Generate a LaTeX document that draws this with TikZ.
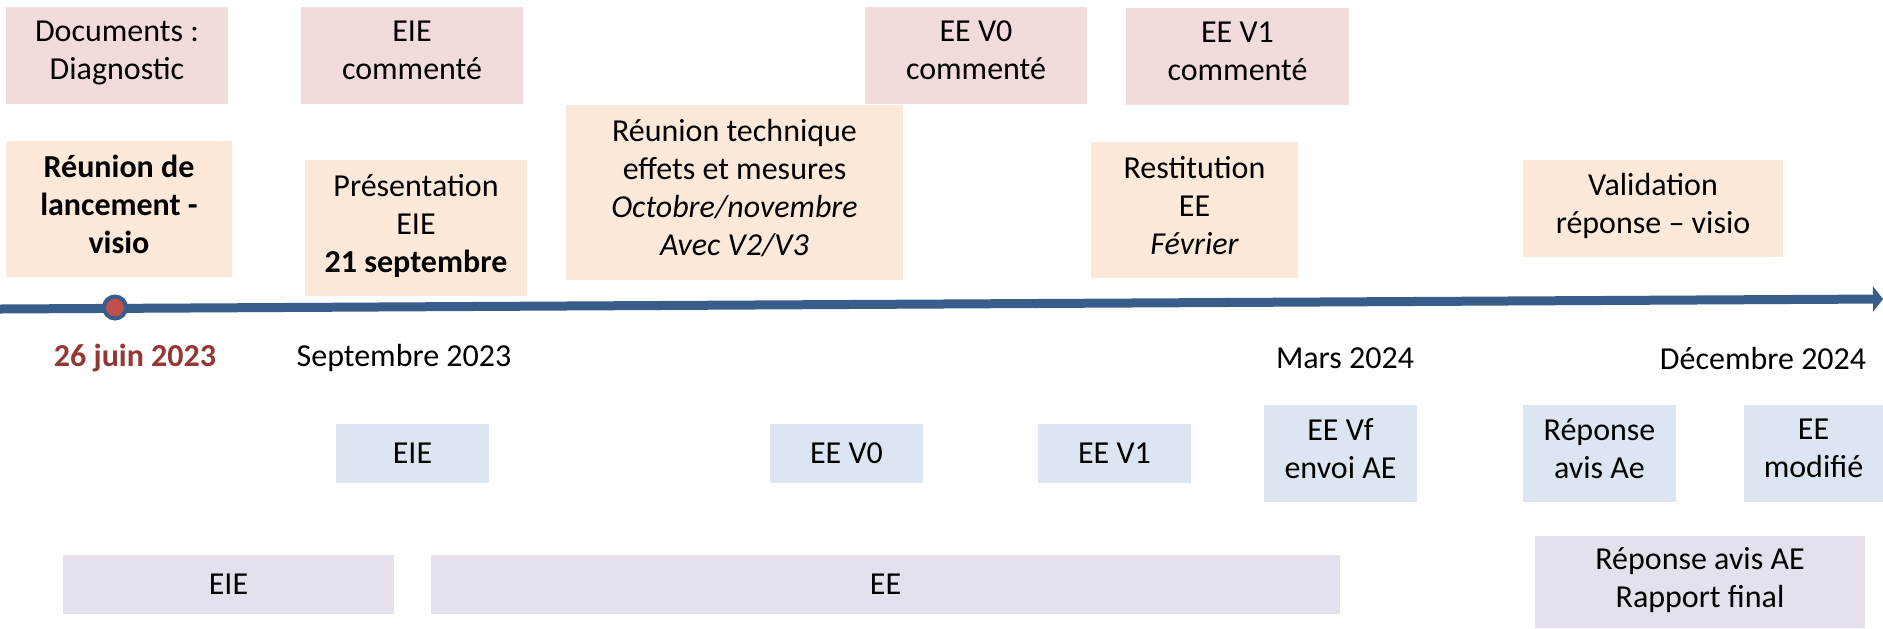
\documentclass[tikz,border=0pt]{standalone}
\usepackage{fontspec}
\setmainfont{Carlito}
\usetikzlibrary{arrows.meta}
\definecolor{pinkfill}{HTML}{F2DCDB}
\definecolor{peachfill}{HTML}{FDE9D9}
\definecolor{bluefill}{HTML}{DCE6F2}
\definecolor{lavfill}{HTML}{E5E0EC}
\definecolor{lineblue}{HTML}{385D8A}
\definecolor{dotred}{HTML}{C0504D}
\definecolor{datered}{HTML}{953735}
\newcommand\boxtop{\rule{0pt}{15pt}}
\newcommand\boxbot{\rule[-5pt]{0pt}{5pt}}
\tikzset{
	box/.style={inner sep=0pt, align=center, font=\fontsize{16}{19}\selectfont,
		execute at begin node=\boxtop, execute at end node=\boxbot},
	pinkbox/.style={box, fill=pinkfill, minimum height=48.5pt},
	peachbox/.style={box, fill=peachfill},
	bluebox/.style={box, fill=bluefill, minimum width=76.5pt},
	lavbox/.style={box, fill=lavfill, minimum height=29.5pt},
	datelabel/.style={inner sep=0pt, font=\fontsize{16}{19}\selectfont},
	timeline/.style={line width=4.5pt, lineblue, -{Triangle[length=5pt, width=12.5pt]}},
}
\begin{document}
\begin{tikzpicture}[x=0.5pt, y=-0.5pt]
	\useasboundingbox (0,0) rectangle (1883,628);
	% documents
	\node[pinkbox, minimum width=111pt] (docs) at (117,55.5) {Documents :\\Diagnostic};
	\node[pinkbox, minimum width=111pt] (eiecom) at (412,55.5) {EIE\\comment\'e};
	\node[pinkbox, minimum width=111pt] (eevzcom) at (976,55.5) {EE V0\\comment\'e};
	\node[pinkbox, minimum width=111.5pt] (eevucom) at (1237.5,56.5) {EE V1\\comment\'e};
	% reunions
	\node[peachbox, minimum width=113pt, minimum height=68pt] (kickbox) at (119,209) {\bfseries R\'eunion de\\\bfseries lancement -\\\bfseries visio};
	\node[peachbox, minimum width=111pt, minimum height=68pt] (pres) at (416,228) {Pr\'esentation\\EIE\\\bfseries 21 septembre};
	\node[peachbox, minimum width=168.5pt, minimum height=87.5pt] (reutech) at (734.5,192.5) {R\'eunion technique\\effets et mesures\\\itshape Octobre/novembre\\\itshape Avec V2/V3};
	\node[peachbox, minimum width=103.5pt, minimum height=68pt] (restit) at (1194.5,210) {Restitution\\EE\\\itshape F\'evrier};
	\node[peachbox, minimum width=130pt, minimum height=48.5pt] (valid) at (1653,208.5) {Validation\\r\'eponse -- visio};
	% frise
	\coordinate (tstart) at (0,309);
	\coordinate (tend) at (1883,299);
	\draw[timeline] (tstart) -- (tend);
	\node[circle, fill=dotred, draw=lineblue, line width=2pt, minimum size=11pt, inner sep=0pt] (kickoff) at (115,307.5) {};
	\node[datelabel, text=datered, font=\fontsize{16}{19}\selectfont\bfseries] (juin) at (135,358) {26 juin 2023};
	\node[datelabel] (sept) at (404,358) {Septembre 2023};
	\node[datelabel] (mars) at (1345,358) {Mars 2024};
	\node[datelabel] (dec) at (1763,358) {D\'ecembre 2024};
	% livrables
	\node[bluebox, minimum height=29.5pt] (eie) at (412.5,453.5) {EIE};
	\node[bluebox, minimum height=29.5pt] (eevz) at (846.5,453.5) {EE V0};
	\node[bluebox, minimum height=29.5pt] (eevu) at (1114.5,453.5) {EE V1};
	\node[bluebox, minimum height=48.5pt] (eevf) at (1340.5,453.5) {EE Vf\\envoi AE};
	\node[bluebox, minimum height=48.5pt] (repae) at (1599.5,453.5) {R\'eponse\\avis Ae};
	\node[bluebox, minimum width=69.5pt, minimum height=48.5pt] (eemod) at (1813.5,453.5) {EE\\modifi\'e};
	% phases
	\node[lavbox, minimum width=165.5pt] (phaseeie) at (228.5,584.5) {EIE};
	\node[lavbox, minimum width=454.5pt] (phasee) at (885.5,584.5) {EE};
	\node[lavbox, minimum width=165pt, minimum height=46pt] (phaserep) at (1700,582) {R\'eponse avis AE\\Rapport final};
\end{tikzpicture}
\end{document}
